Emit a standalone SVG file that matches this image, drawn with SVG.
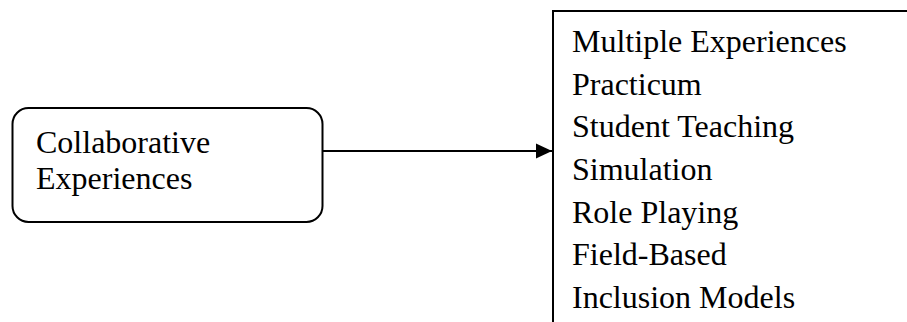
<svg xmlns="http://www.w3.org/2000/svg" width="907" height="322" viewBox="0 0 907 322">
<style>
.t{font-family:"Liberation Serif","Times New Roman",serif;font-size:32px;fill:#000}
.s{fill:none;stroke:#000;stroke-width:2}
</style>
<defs>
<marker id="ah" markerWidth="16" markerHeight="16" refX="16" refY="8" orient="auto" markerUnits="userSpaceOnUse">
<path d="M0,0.5 L16,8 L0,15.5 Z" fill="#000"/>
</marker>
</defs>
<rect width="907" height="322" fill="#fff"/>
<g id="collab">
<rect class="s" x="12.5" y="108" width="310" height="114" rx="16"/>
<text class="t" x="36" y="153">Collaborative</text>
<text class="t" x="36" y="189">Experiences</text>
</g>
<g id="list">
<path class="s" d="M553,323 V11 H908"/>
<text class="t" x="572" y="52">Multiple Experiences</text>
<text class="t" x="572" y="94.7">Practicum</text>
<text class="t" x="572" y="137.3">Student Teaching</text>
<text class="t" x="572" y="180">Simulation</text>
<text class="t" x="572" y="222.7">Role Playing</text>
<text class="t" x="572" y="265.3">Field-Based</text>
<text class="t" x="572" y="308">Inclusion Models</text>
</g>
<g id="connectors">
<line class="s" x1="323" y1="151" x2="552" y2="151" marker-end="url(#ah)"/>
</g>
</svg>
